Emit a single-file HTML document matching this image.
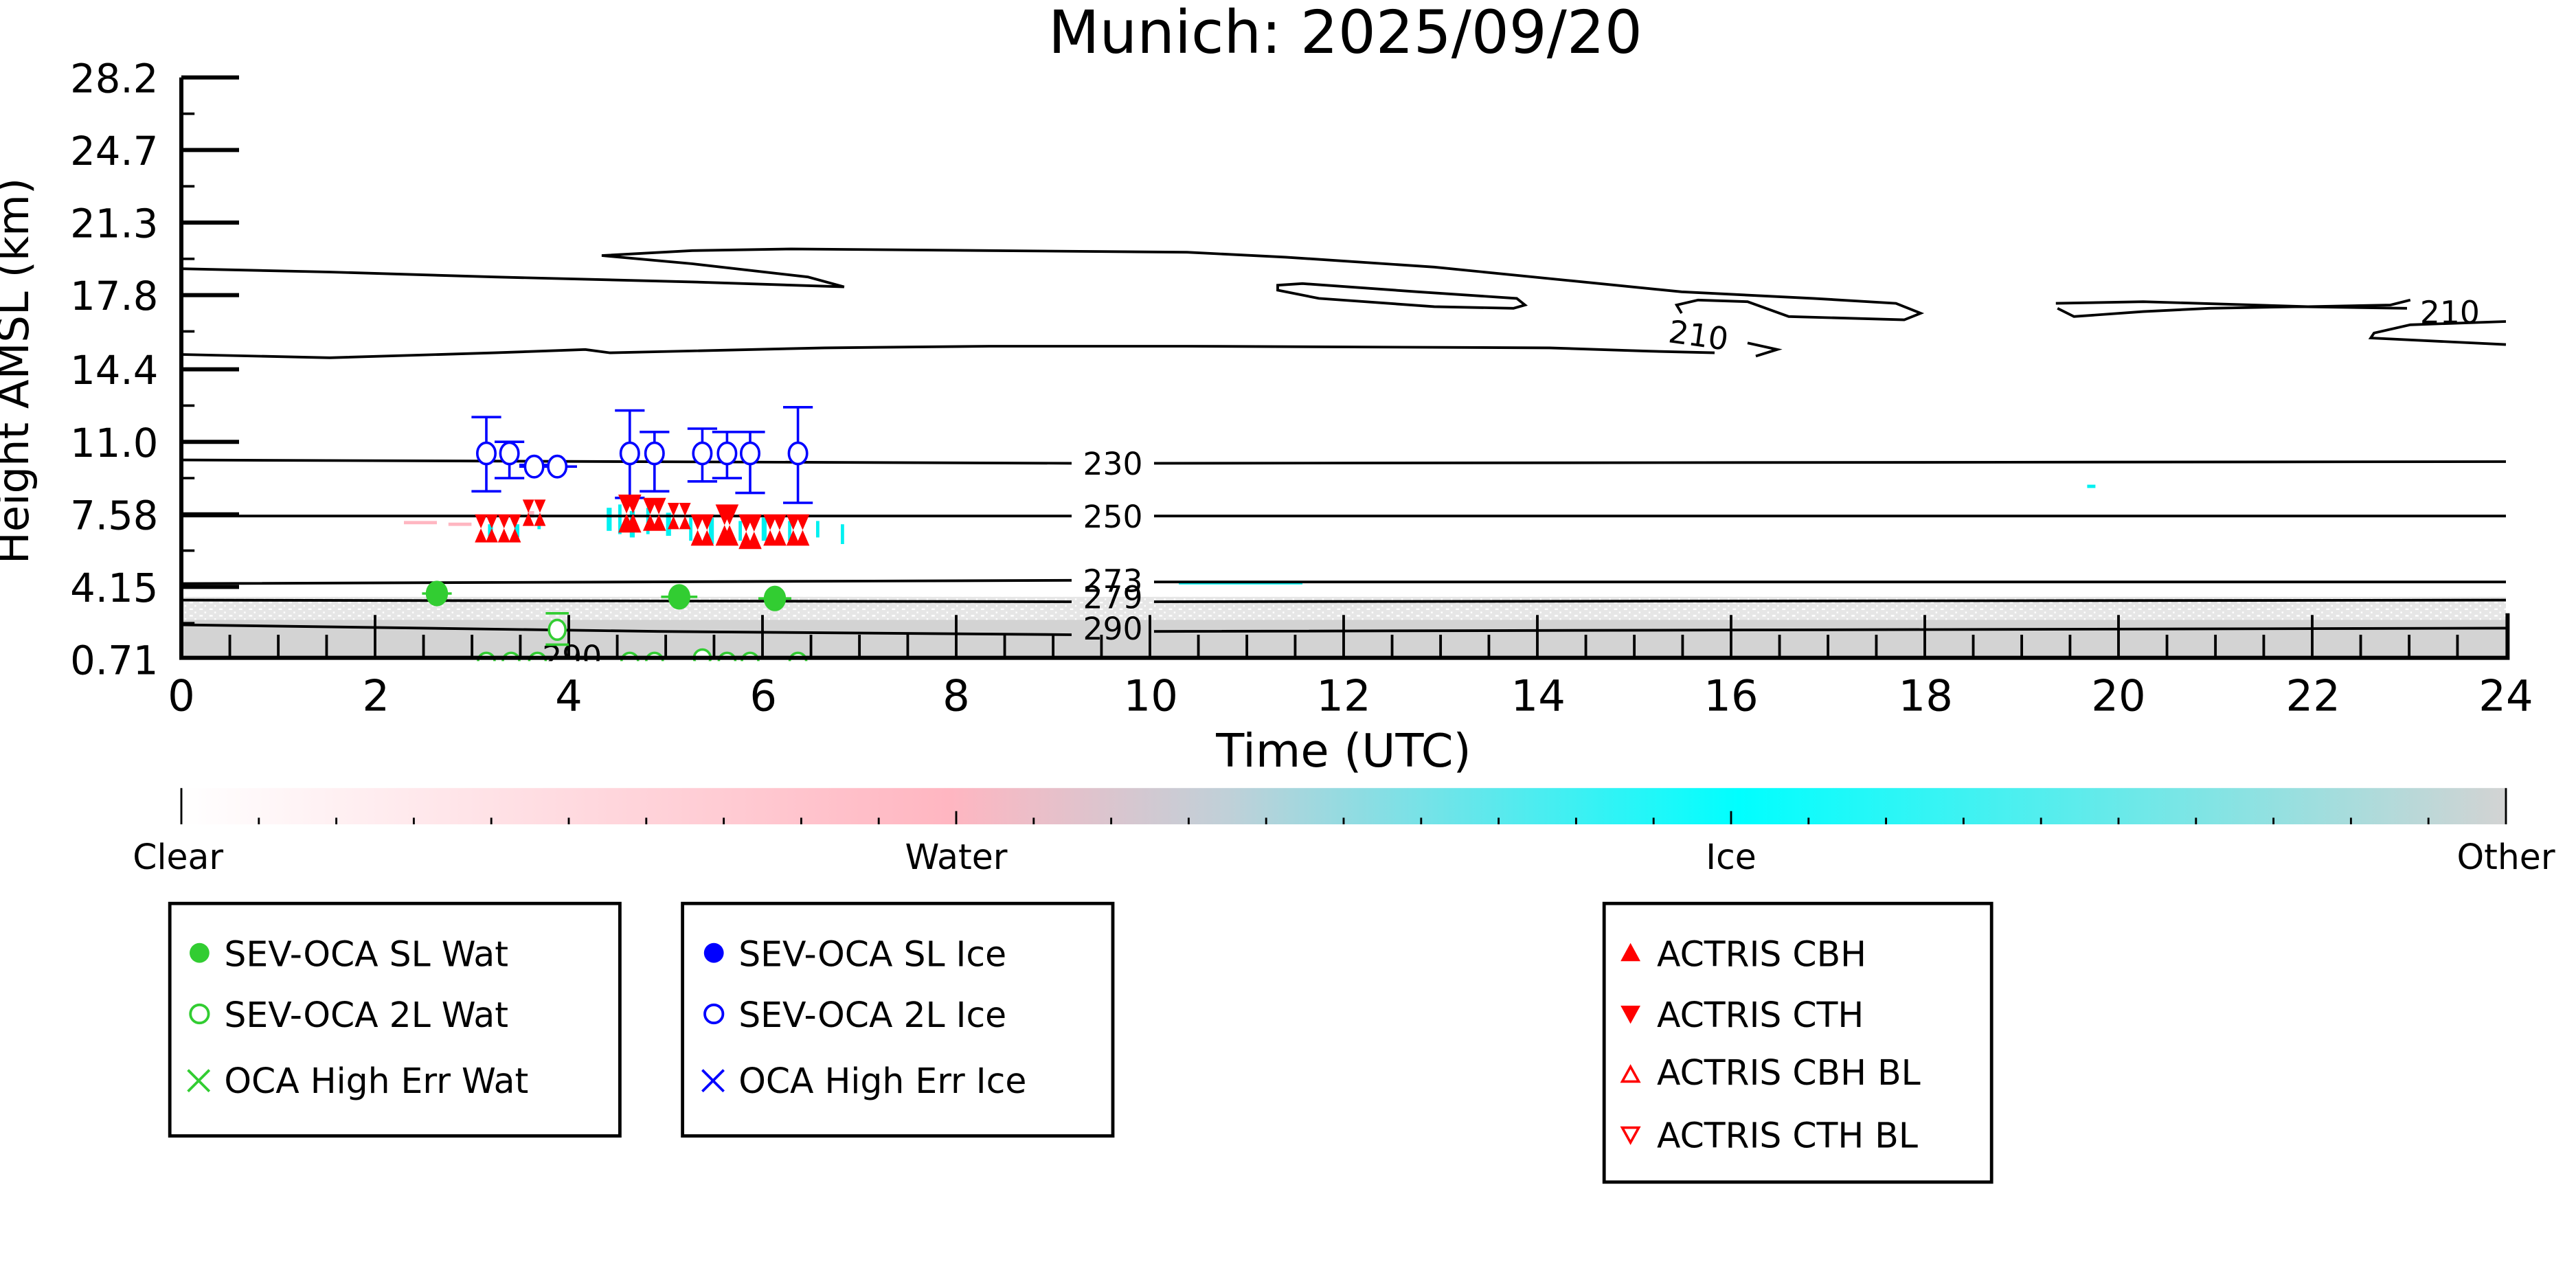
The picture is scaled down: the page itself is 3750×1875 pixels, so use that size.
<!DOCTYPE html>
<html><head><meta charset="utf-8"><style>
html,body{margin:0;padding:0;background:#fff;}
svg{display:block;font-family:"DejaVu Sans","Liberation Sans",sans-serif;}
</style></head><body>
<svg width="3750" height="1875" viewBox="0 0 1562.5 781.25" xmlns="http://www.w3.org/2000/svg">
<defs>
<linearGradient id="cb" x1="0" x2="1" y1="0" y2="0">
<stop offset="0" stop-color="#ffffff"/>
<stop offset="0.33" stop-color="#ffb6c1"/>
<stop offset="0.45" stop-color="#c0d0d8"/>
<stop offset="0.67" stop-color="#00ffff"/>
<stop offset="1" stop-color="#d3d3d3"/>
</linearGradient>
<pattern id="noise" width="6" height="4" patternUnits="userSpaceOnUse">
<rect width="6" height="4" fill="#e6e6e6"/><rect x="1" y="1" width="2" height="1" fill="#fff"/><rect x="4" y="3" width="1" height="1" fill="#fff"/>
</pattern>
</defs>
<text x="816" y="32" font-size="36" text-anchor="middle">Munich: 2025/09/20</text>
<rect x="110" y="362" width="1410" height="16" fill="url(#noise)"/>
<rect x="110" y="376" width="1410" height="22" fill="#d3d3d3"/>
<!-- cyan/pink streaks -->
<g fill="#00f0f0">
<rect x="368" y="308" width="3" height="14"/><rect x="375" y="306" width="2" height="18"/><rect x="382" y="310" width="3" height="16"/><rect x="392" y="308" width="2" height="16"/><rect x="404" y="311" width="3" height="14"/><rect x="418" y="314" width="2" height="14"/><rect x="430" y="314" width="3" height="16"/><rect x="448" y="316" width="2" height="12"/><rect x="462" y="314" width="3" height="14"/><rect x="478" y="316" width="2" height="12"/><rect x="495" y="316" width="2" height="10"/><rect x="510" y="318" width="2" height="12"/>
<rect x="296" y="318" width="3" height="8"/><rect x="312" y="318" width="3" height="8"/><rect x="326" y="313" width="2" height="8"/>
<rect x="715" y="353" width="75" height="1.5"/><rect x="1266" y="294" width="5" height="2"/>
</g>
<g fill="#ffb6c1"><rect x="245" y="316" width="20" height="2"/><rect x="272" y="317" width="14" height="2"/><rect x="320" y="310" width="4" height="4"/></g>
<g stroke="#000" stroke-width="1.6">
<path d="M139.4 398V385M198.1 398V385M256.9 398V385M315.6 398V385M374.4 398V385M433.1 398V385M491.9 398V385M550.6 398V385M609.4 398V385M668.1 398V385M726.9 398V385M785.6 398V385M844.4 398V385M903.1 398V385M961.9 398V385M1020.6 398V385M1079.4 398V385M1138.1 398V385M1196.9 398V385M1255.6 398V385M1314.4 398V385M1373.1 398V385M1431.9 398V385M1490.6 398V385"/>
<path d="M168.8 398V385M286.3 398V385M403.8 398V385M521.3 398V385M638.8 398V385M756.3 398V385M873.8 398V385M991.3 398V385M1108.8 398V385M1226.3 398V385M1343.8 398V385M1461.3 398V385"/>
<path d="M227.5 398V373M345 398V373M462.5 398V373M580 398V373M697.5 398V373M815 398V373M932.5 398V373M1050 398V373M1167.5 398V373M1285 398V373M1402.5 398V373"/>
</g>
<g fill="none" stroke="#000" stroke-width="1.6">
<path d="M110 279 L650 281 M700 281 L1520 280"/>
<path d="M110 313 L650 313 M700 313 L1520 313"/>
<path d="M110 354 L650 352 M700 353 L1520 353"/>
<path d="M110 364 L650 365 M700 365 L1520 364"/>
<path d="M110 379 L400 383 L650 385 M700 383 L1520 381"/>
<path d="M110 163 L200 165 L300 168 L420 171 L512 174 L490 168 L420 160 L365 155 L420 152 L480 151 L600 152 L720 153 L780 156 L870 162 L950 170 L1020 177 L1100 181 L1150 184 L1165 190 L1155 194 L1085 192 L1060 183 L1030 182 L1017 185 L1020 190"/>
<path d="M110 215 L200 217 L300 214 L355 212 L370 214 L500 211 L600 210 L720 210 L940 211 L1000 213 L1040 214 M1060 208 L1078 212 L1065 216"/>
<path d="M775 173 L790 172 L860 177 L920 181 L925 185 L918 187 L870 186 L800 181 L775 176 Z"/>
<path d="M1247 184 L1300 183 L1400 186 L1450 185 L1462 182 M1248 187 L1258 192 L1300 189 L1340 187 L1395 186 L1460 187"/>
<path d="M1520 195 L1462 197 L1440 202 L1438 205 L1520 209"/>
</g>
<g font-size="19" text-anchor="middle">
<rect x="652" y="268" width="46" height="26" fill="#fff"/><text x="675" y="288">230</text>
<rect x="652" y="302" width="46" height="24" fill="#fff"/><text x="675" y="320">250</text>
<text x="675" y="359">273</text><text x="675" y="369">279</text><text x="675" y="388">290</text>
<text x="1486" y="196">210</text>
<text x="1030" y="210" transform="rotate(8 1030 205)">210</text>
<text x="347" y="405">290</text>
</g>
<g stroke="#0000ff" stroke-width="1.5" fill="#fff">
<path d="M295 253V298M286 253H304M286 298H304 M309 268V290M300 268H318M300 290H318 M324 282V287M315 282H333 M338 283V287M329 283H347 M382 249V302M373 249H391M373 302H391 M397 262V298M388 262H406M388 298H406 M426 260V292M417 260H435M417 292H435 M441 262V290M432 262H450M432 290H450 M455 262V299M446 262H464M446 299H464 M484 247V305M475 247H493M475 305H493 M315 283H350"/>
<ellipse cx="295" cy="275" rx="5.5" ry="6.5"/><ellipse cx="309" cy="275" rx="5.5" ry="6.5"/><ellipse cx="324" cy="283" rx="5.5" ry="6.5"/><ellipse cx="338" cy="283" rx="5.5" ry="6.5"/><ellipse cx="382" cy="275" rx="5.5" ry="6.5"/><ellipse cx="397" cy="275" rx="5.5" ry="6.5"/><ellipse cx="426" cy="275" rx="5.5" ry="6.5"/><ellipse cx="441" cy="275" rx="5.5" ry="6.5"/><ellipse cx="455" cy="275" rx="5.5" ry="6.5"/><ellipse cx="484" cy="275" rx="5.5" ry="6.5"/>
</g>
<g fill="#ff0000">
<path d="M288 312h14l-7 16z M288 329h14l-7-16z"/>
<path d="M302 312h14l-7 16z M302 329h14l-7-16z"/>
<path d="M317 303h14l-7 16z M317 319h14l-7-16z"/>
<path d="M375 300h14l-7 16z M375 323h14l-7-16z"/>
<path d="M390 302h14l-7 16z M390 322h14l-7-16z"/>
<path d="M405 305h14l-7 16z M405 321h14l-7-16z"/>
<path d="M419 312h14l-7 16z M419 331h14l-7-16z"/>
<path d="M434 306h14l-7 16z M434 331h14l-7-16z"/>
<path d="M448 312h14l-7 16z M448 333h14l-7-16z"/>
<path d="M463 312h14l-7 16z M463 331h14l-7-16z"/>
<path d="M477 312h14l-7 16z M477 331h14l-7-16z"/>
</g>
<g fill="#32cd32" stroke="#32cd32" stroke-width="1.5">
<ellipse cx="265" cy="360" rx="6" ry="7"/><path d="M256 360H274"/>
<ellipse cx="412" cy="362" rx="6" ry="7"/><path d="M401 362H423"/>
<ellipse cx="470" cy="363" rx="6" ry="7"/><path d="M460 363H480"/>
</g>
<g fill="#fff" stroke="#32cd32" stroke-width="1.5">
<ellipse cx="338" cy="382" rx="5" ry="6"/><path d="M331 372H345M331 391H345" fill="none"/>
<circle cx="295" cy="401" r="5"/><circle cx="310" cy="401" r="5"/><circle cx="326" cy="401" r="5"/><circle cx="382" cy="401" r="5"/><circle cx="397" cy="401" r="5"/><circle cx="426" cy="399" r="5"/><circle cx="441" cy="401" r="5"/><circle cx="455" cy="401" r="5"/><circle cx="484" cy="401" r="5"/>
</g>
<rect x="100" y="401" width="1430" height="8" fill="#fff"/>
<g stroke="#000" stroke-width="2.5" fill="none">
<path d="M110 47V399H1521V372"/>
<path d="M110 47H145M110 91H145M110 135H145M110 179H145M110 224H145M110 268H145M110 312H145M110 356H145"/>
<path d="M110 69H118M110 113H118M110 157H118M110 201H118M110 246H118M110 290H118M110 334H118M110 378H118" stroke-width="1.5"/>
</g>
<g font-size="24" text-anchor="end">
<text x="96" y="56">28.2</text><text x="96" y="100">24.7</text><text x="96" y="144">21.3</text><text x="96" y="188">17.8</text><text x="96" y="233">14.4</text><text x="96" y="277">11.0</text><text x="96" y="321">7.58</text><text x="96" y="365">4.15</text><text x="96" y="409">0.71</text>
</g>
<text x="17" y="225" font-size="26" text-anchor="middle" transform="rotate(-90 17 225)">Height AMSL (km)</text>
<g font-size="26" text-anchor="middle">
<text x="110" y="431">0</text><text x="228" y="431">2</text><text x="345" y="431">4</text><text x="463" y="431">6</text><text x="580" y="431">8</text><text x="698" y="431">10</text><text x="815" y="431">12</text><text x="933" y="431">14</text><text x="1050" y="431">16</text><text x="1168" y="431">18</text><text x="1285" y="431">20</text><text x="1403" y="431">22</text><text x="1520" y="431">24</text>
<text x="815" y="465" font-size="28">Time (UTC)</text>
</g>
<rect x="110" y="478" width="1410" height="22" fill="url(#cb)"/>
<g stroke="#000" stroke-width="1.2">
<path d="M110 478V500M580 492V500M1050 492V500M1520 478V500"/>
<path d="M157 496V500M204 496V500M251 496V500M298 496V500M345 496V500M392 496V500M439 496V500M486 496V500M533 496V500M627 496V500M674 496V500M721 496V500M768 496V500M815 496V500M862 496V500M909 496V500M956 496V500M1003 496V500M1097 496V500M1144 496V500M1191 496V500M1238 496V500M1285 496V500M1332 496V500M1379 496V500M1426 496V500M1473 496V500"/>
</g>
<g font-size="21" text-anchor="middle">
<text x="108" y="527">Clear</text><text x="580" y="527">Water</text><text x="1050" y="527">Ice</text><text x="1520" y="527">Other</text>
</g>
<g fill="none" stroke="#000" stroke-width="2">
<rect x="103" y="548" width="273" height="141"/>
<rect x="414" y="548" width="261" height="141"/>
<rect x="973" y="548" width="235" height="169"/>
</g>
<g font-size="21">
<circle cx="121" cy="578" r="6" fill="#32cd32"/><text x="136" y="586">SEV-OCA SL Wat</text>
<circle cx="121" cy="615" r="5.5" fill="none" stroke="#32cd32" stroke-width="1.6"/><text x="136" y="623">SEV-OCA 2L Wat</text>
<path d="M114 649l13 13M127 649l-13 13" stroke="#32cd32" stroke-width="1.6"/><text x="136" y="663">OCA High Err Wat</text>
<circle cx="433" cy="578" r="6" fill="#0000ff"/><text x="448" y="586">SEV-OCA SL Ice</text>
<circle cx="433" cy="615" r="5.5" fill="none" stroke="#0000ff" stroke-width="1.6"/><text x="448" y="623">SEV-OCA 2L Ice</text>
<path d="M426 649l13 13M439 649l-13 13" stroke="#0000ff" stroke-width="1.6"/><text x="448" y="663">OCA High Err Ice</text>
<path d="M983 583h12l-6-11z" fill="#ff0000"/><text x="1005" y="586">ACTRIS CBH</text>
<path d="M983 610h12l-6 11z" fill="#ff0000"/><text x="1005" y="623">ACTRIS CTH</text>
<path d="M984 656h10l-5-9z" fill="none" stroke="#ff0000" stroke-width="1.5"/><text x="1005" y="658">ACTRIS CBH BL</text>
<path d="M984 684h10l-5 9z" fill="none" stroke="#ff0000" stroke-width="1.5"/><text x="1005" y="696">ACTRIS CTH BL</text>
</g>
</svg>
</body></html>
